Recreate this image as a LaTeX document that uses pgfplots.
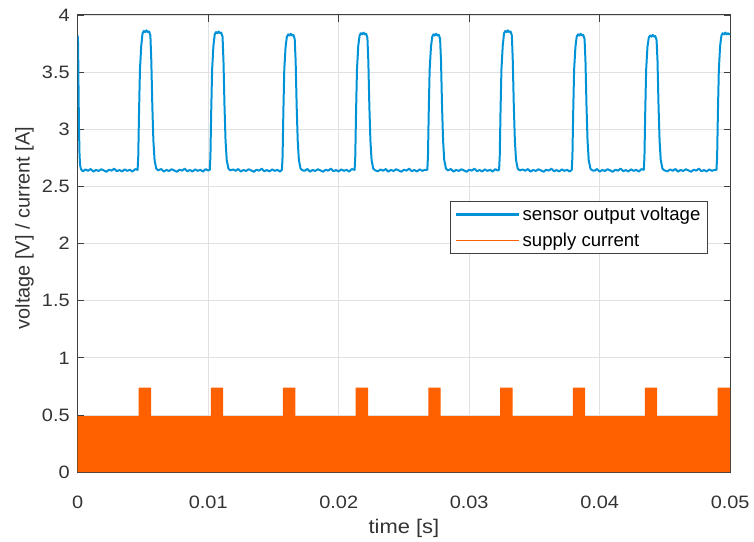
\documentclass[border=0pt]{standalone}
\usepackage{fontspec}
\setmainfont{Liberation Sans}
\usepackage{pgfplots}
\pgfplotsset{compat=1.18}
\definecolor{sensBlue}{RGB}{0,146,214}
\definecolor{curOrange}{RGB}{255,96,0}
\definecolor{axGray}{RGB}{64,64,64}
\definecolor{gridGray}{RGB}{225,225,225}
\newcommand{\tickfont}{\fontsize{15}{17}\selectfont}
\newcommand{\labfont}{\fontsize{16.5}{19}\selectfont}
\newcommand{\legfont}{\fontsize{14}{16}\selectfont}
\pgfplotsset{
  layers/gridbelow/.define layer set={axis background,axis grid,pre main,main,axis ticks,axis lines,axis tick labels,axis descriptions,axis foreground}{},
}

\begin{document}
\begin{tikzpicture}
\begin{axis}[
  name=ax,
  set layers=gridbelow,
  scale only axis,
  width=491.25pt,height=344.25pt,
  xmin=0,xmax=0.05,ymin=0,ymax=4,
  xtick={0,0.01,0.02,0.03,0.04,0.05},
  ytick={0,0.5,1,1.5,2,2.5,3,3.5,4},
  scaled x ticks=false,
  xticklabel style={/pgf/number format/fixed,/pgf/number format/precision=2,yshift=-16.5pt},
  yticklabel style={xshift=-2.5pt},
  /pgf/number format/assume math mode=true,
  tick align=inside,
  major tick length=5pt,
  tick style={axGray,line width=0.6pt},
  axis line style={axGray,line width=0.7pt},
  grid=major,
  grid style={gridGray,line width=0.6pt},
  tick label style={font=\tickfont,text=black!80,yscale=0.9},
  label style={text=black!80},
  xlabel={time [s]},
  ylabel={voltage [V] / current [A]},
  x label style={font=\labfont,yscale=0.9,at={(axis description cs:0.5,-0.135)},anchor=base},
  y label style={font=\tickfont,at={(axis description cs:-0.0815,0.534)},anchor=center},
  legend cell align=left,
  legend style={at={(0.571,0.592)},anchor=north west,font=\legfont,
    draw=axGray,line width=0.6pt,fill=white,inner xsep=3pt,inner ysep=2pt,
    row sep=3.5pt},
]
\addlegendimage{legend image code/.code={\draw[sensBlue,line width=2.2pt] (0pt,0pt) -- (47pt,0pt);}}
\addlegendentry{sensor output voltage}
\addlegendimage{legend image code/.code={\draw[curOrange,line width=0.5pt] (0pt,0pt) -- (47pt,0pt);}}
\addlegendentry{supply current}

% supply current (PWM looks solid at this scale)
\addplot[fill=curOrange,draw=none,forget plot] coordinates {
  (0,0.49) (0.00467,0.49) (0.00467,0.74) (0.00562,0.74) (0.00562,0.49)
  (0.0102,0.49) (0.0102,0.74) (0.01115,0.74) (0.01115,0.49)
  (0.01573,0.49) (0.01573,0.74) (0.01668,0.74) (0.01668,0.49)
  (0.0213,0.49) (0.0213,0.74) (0.02225,0.74) (0.02225,0.49)
  (0.02687,0.49) (0.02687,0.74) (0.02782,0.74) (0.02782,0.49)
  (0.03237,0.49) (0.03237,0.74) (0.03332,0.74) (0.03332,0.49)
  (0.03794,0.49) (0.03794,0.74) (0.03889,0.74) (0.03889,0.49)
  (0.04346,0.49) (0.04346,0.74) (0.04441,0.74) (0.04441,0.49)
  (0.04903,0.49) (0.04903,0.74) (0.05,0.74)
} \closedcycle;

% sensor output voltage
\addplot[sensBlue,line width=1.5pt,line join=round,forget plot] coordinates {
  (0,3.82) (0.00003,3.75) (0.00006,3.4) (0.0001,3.0) (0.00014,2.78) (0.00018,2.69) (0.00025,2.65)
  (0.0004,2.632) (0.0006,2.648) (0.0008,2.637) (0.0010,2.652) (0.0012,2.629) (0.0014,2.644)
  (0.0016,2.635) (0.0018,2.650) (0.0020,2.640) (0.0022,2.628) (0.0024,2.646) (0.0026,2.638)
  (0.0028,2.655) (0.0030,2.633) (0.0032,2.643) (0.0034,2.631) (0.0036,2.649) (0.0038,2.636)
  (0.0040,2.645) (0.0042,2.630) (0.0044,2.651)
  (0.00459,2.645) (0.00464,2.76) (0.00470,3.15) (0.00477,3.52) (0.00487,3.73) (0.00497,3.84)
  (0.00507,3.86) (0.00517,3.85) (0.00527,3.865) (0.00537,3.85) (0.00547,3.855) (0.00557,3.82)
  (0.00564,3.6) (0.00572,3.2) (0.00580,2.9) (0.00589,2.73) (0.00602,2.655) (0.00617,2.64)
  (0.0064,2.652) (0.0066,2.629) (0.0068,2.644) (0.0070,2.635) (0.0072,2.650) (0.0074,2.640)
  (0.0076,2.628) (0.0078,2.646) (0.0080,2.638) (0.0082,2.655) (0.0084,2.633) (0.0086,2.643)
  (0.0088,2.631) (0.0090,2.649) (0.0092,2.636) (0.0094,2.645) (0.0096,2.630) (0.0098,2.651)
  (0.0100,2.639)
  (0.01012,2.645) (0.01017,2.76) (0.01023,3.15) (0.01030,3.52) (0.01040,3.73) (0.01050,3.83)
  (0.01060,3.85) (0.01070,3.84) (0.01080,3.855) (0.01090,3.84) (0.01100,3.845) (0.01110,3.81)
  (0.01117,3.6) (0.01125,3.2) (0.01133,2.9) (0.01142,2.73) (0.01155,2.655) (0.01170,2.64)
  (0.0119,2.648) (0.0121,2.637) (0.0123,2.652) (0.0125,2.629) (0.0127,2.644) (0.0129,2.635)
  (0.0131,2.650) (0.0133,2.640) (0.0135,2.628) (0.0137,2.646) (0.0139,2.638) (0.0141,2.655)
  (0.0143,2.633) (0.0145,2.643) (0.0147,2.631) (0.0149,2.649) (0.0151,2.636) (0.0153,2.645)
  (0.0155,2.630)
  (0.01565,2.645) (0.01570,2.76) (0.01576,3.15) (0.01583,3.52) (0.01593,3.72) (0.01603,3.81)
  (0.01613,3.83) (0.01623,3.82) (0.01633,3.835) (0.01643,3.82) (0.01653,3.825) (0.01663,3.79)
  (0.01670,3.6) (0.01678,3.2) (0.01686,2.9) (0.01695,2.73) (0.01708,2.655) (0.01723,2.64)
  (0.0174,2.637) (0.0176,2.652) (0.0178,2.629) (0.0180,2.644) (0.0182,2.635) (0.0184,2.650)
  (0.0186,2.640) (0.0188,2.628) (0.0190,2.646) (0.0192,2.638) (0.0194,2.655) (0.0196,2.633)
  (0.0198,2.643) (0.0200,2.631) (0.0202,2.649) (0.0204,2.636) (0.0206,2.645) (0.0208,2.630)
  (0.0210,2.651)
  (0.02122,2.645) (0.02127,2.76) (0.02133,3.15) (0.02140,3.52) (0.02150,3.73) (0.02160,3.82)
  (0.02170,3.84) (0.02180,3.83) (0.02190,3.845) (0.02200,3.83) (0.02210,3.835) (0.02220,3.80)
  (0.02227,3.6) (0.02235,3.2) (0.02243,2.9) (0.02252,2.73) (0.02265,2.655) (0.02280,2.64)
  (0.0230,2.632) (0.0232,2.648) (0.0234,2.637) (0.0236,2.652) (0.0238,2.629) (0.0240,2.644)
  (0.0242,2.635) (0.0244,2.650) (0.0246,2.640) (0.0248,2.628) (0.0250,2.646) (0.0252,2.638)
  (0.0254,2.655) (0.0256,2.633) (0.0258,2.643) (0.0260,2.631) (0.0262,2.649) (0.0264,2.636)
  (0.0266,2.645)
  (0.02679,2.645) (0.02684,2.76) (0.02690,3.15) (0.02697,3.52) (0.02707,3.72) (0.02717,3.81)
  (0.02727,3.83) (0.02737,3.82) (0.02747,3.835) (0.02757,3.82) (0.02767,3.825) (0.02777,3.79)
  (0.02784,3.6) (0.02792,3.2) (0.02800,2.9) (0.02809,2.73) (0.02822,2.655) (0.02837,2.64)
  (0.0286,2.652) (0.0288,2.629) (0.0290,2.644) (0.0292,2.635) (0.0294,2.650) (0.0296,2.640)
  (0.0298,2.628) (0.0300,2.646) (0.0302,2.638) (0.0304,2.655) (0.0306,2.633) (0.0308,2.643)
  (0.0310,2.631) (0.0312,2.649) (0.0314,2.636) (0.0316,2.645) (0.0318,2.630) (0.0320,2.651)
  (0.0322,2.639)
  (0.03229,2.645) (0.03234,2.76) (0.03240,3.15) (0.03247,3.52) (0.03257,3.73) (0.03267,3.84)
  (0.03277,3.86) (0.03287,3.85) (0.03297,3.865) (0.03307,3.85) (0.03317,3.855) (0.03327,3.82)
  (0.03334,3.6) (0.03342,3.2) (0.03350,2.9) (0.03359,2.73) (0.03372,2.655) (0.03387,2.64)
  (0.0341,2.648) (0.0343,2.637) (0.0345,2.652) (0.0347,2.629) (0.0349,2.644) (0.0351,2.635)
  (0.0353,2.650) (0.0355,2.640) (0.0357,2.628) (0.0359,2.646) (0.0361,2.638) (0.0363,2.655)
  (0.0365,2.633) (0.0367,2.643) (0.0369,2.631) (0.0371,2.649) (0.0373,2.636) (0.0375,2.645)
  (0.0377,2.630)
  (0.03786,2.645) (0.03791,2.76) (0.03797,3.15) (0.03804,3.52) (0.03814,3.72) (0.03824,3.81)
  (0.03834,3.83) (0.03844,3.82) (0.03854,3.835) (0.03864,3.82) (0.03874,3.825) (0.03884,3.79)
  (0.03891,3.6) (0.03899,3.2) (0.03907,2.9) (0.03916,2.73) (0.03929,2.655) (0.03944,2.64)
  (0.0396,2.637) (0.0398,2.652) (0.0400,2.629) (0.0402,2.644) (0.0404,2.635) (0.0406,2.650)
  (0.0408,2.640) (0.0410,2.628) (0.0412,2.646) (0.0414,2.638) (0.0416,2.655) (0.0418,2.633)
  (0.0420,2.643) (0.0422,2.631) (0.0424,2.649) (0.0426,2.636) (0.0428,2.645) (0.0430,2.630)
  (0.0432,2.651)
  (0.04338,2.645) (0.04343,2.76) (0.04349,3.15) (0.04356,3.52) (0.04366,3.72) (0.04376,3.80)
  (0.04386,3.82) (0.04396,3.81) (0.04406,3.825) (0.04416,3.81) (0.04426,3.815) (0.04436,3.78)
  (0.04443,3.6) (0.04451,3.2) (0.04459,2.9) (0.04468,2.73) (0.04481,2.655) (0.04496,2.64)
  (0.0452,2.632) (0.0454,2.648) (0.0456,2.637) (0.0458,2.652) (0.0460,2.629) (0.0462,2.644)
  (0.0464,2.635) (0.0466,2.650) (0.0468,2.640) (0.0470,2.628) (0.0472,2.646) (0.0474,2.638)
  (0.0476,2.655) (0.0478,2.633) (0.0480,2.643) (0.0482,2.631) (0.0484,2.649) (0.0486,2.636)
  (0.0488,2.645)
  (0.04895,2.645) (0.04900,2.76) (0.04906,3.15) (0.04913,3.52) (0.04923,3.73) (0.04933,3.82)
  (0.04943,3.84) (0.04953,3.83) (0.04963,3.845) (0.04973,3.83) (0.04983,3.84) (0.04993,3.83)
  (0.05,3.835)
};
\end{axis}
\path ([shift={(-58.5pt,-48.75pt)}]ax.south west) rectangle ([shift={(15.75pt,11.25pt)}]ax.north east);
\end{tikzpicture}
\end{document}
